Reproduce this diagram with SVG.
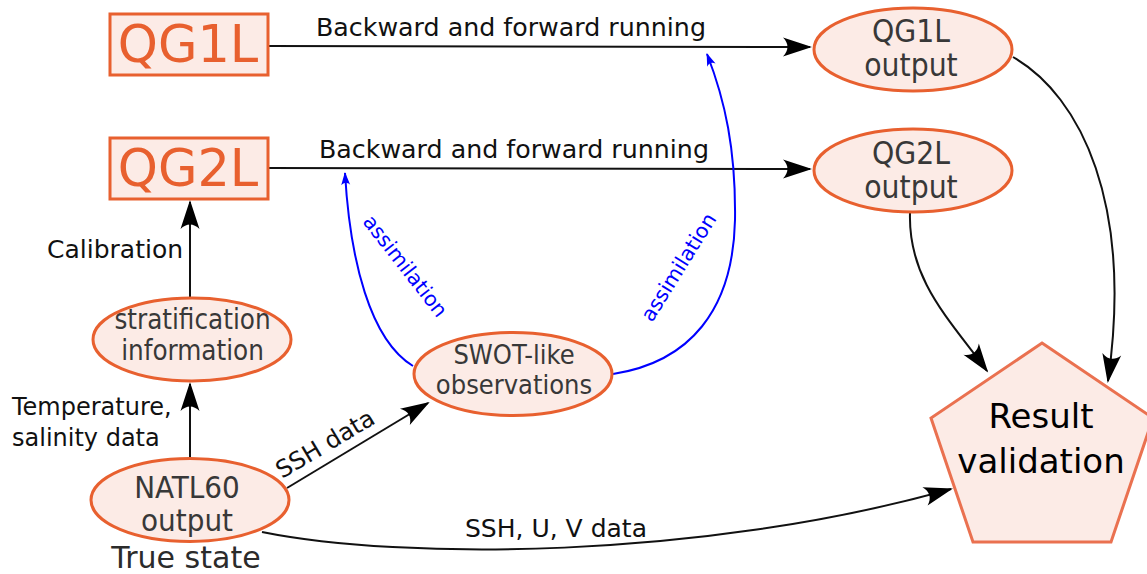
<svg xmlns="http://www.w3.org/2000/svg" width="1147" height="574" viewBox="0 0 1147 574">
<style>
.box{fill:#fcebe6;stroke:#e8602f;stroke-width:3}
.pent{fill:#fcebe6;stroke:#ea7150;stroke-width:3}
.big{font-family:"DejaVu Sans","Liberation Sans",sans-serif;fill:#e8602f;text-anchor:middle}
.nt{font-family:"DejaVu Sans Condensed","DejaVu Sans","Liberation Sans",sans-serif;font-stretch:condensed;fill:#383838;text-anchor:middle}
.lbl{font-family:"DejaVu Sans","Liberation Sans",sans-serif;fill:#111}
.blbl{font-family:"DejaVu Sans","Liberation Sans",sans-serif;fill:#0000ff;font-size:20.5px}
.ln{fill:none;stroke:#111;stroke-width:2;marker-end:url(#ah)}
.bl{fill:none;stroke:#0000ff;stroke-width:2;marker-end:url(#bh)}
</style>
<defs>
<marker id="ah" markerUnits="userSpaceOnUse" viewBox="-30 -12 34 24" markerWidth="34" markerHeight="24" refX="0" refY="0" orient="auto">
<path d="M2,0 L-27,-9.5 C-21,-3.5 -21,3.5 -27,9.5 Z" fill="#000"/>
</marker>
<marker id="bh" markerUnits="userSpaceOnUse" viewBox="-14 -6 16 12" markerWidth="16" markerHeight="12" refX="0" refY="0" orient="auto">
<path d="M1,0 L-12,-4.5 C-9,-1.5 -9,1.5 -12,4.5 Z" fill="#0000ff"/>
</marker>
</defs>

<g id="connectors">
<path class="ln" d="M269,46 L810,47"/>
<text class="lbl" x="316" y="35.5" font-size="25.3">Backward and forward running</text>
<path class="ln" d="M269,168 L810,169"/>
<text class="lbl" x="319" y="157.5" font-size="25.3">Backward and forward running</text>
<path class="ln" d="M1013,57 C1082,97 1133,205 1108,381"/>
<path class="ln" d="M910,213 C908,280 950,320 987,371"/>
<path class="ln" d="M190,297 L190,202"/>
<text class="lbl" x="47" y="258" font-size="25">Calibration</text>
<path class="ln" d="M190,458 L190,384"/>
<text class="lbl" x="12" y="415" font-size="24">Temperature,</text>
<text class="lbl" x="12" y="446" font-size="24">salinity data</text>
<path class="ln" d="M287,488 L428,403"/>
<text class="lbl" x="282" y="479" font-size="24" transform="rotate(-30.7 282 479)">SSH data</text>
<path class="ln" d="M262,532 C400,560 700,560 951,489"/>
<text class="lbl" x="465" y="537" font-size="25">SSH, U, V data</text>
<path class="bl" d="M413,366 C370,340 350,260 345,173"/>
<text class="blbl" x="362" y="222" transform="rotate(52 362 222)">assimilation</text>
<path class="bl" d="M613,374 C690,362 733,310 735,220 C736,150 725,100 707,54"/>
<text class="blbl" x="652" y="323" transform="rotate(-58 652 323)">assimilation</text>
</g>

<g id="QG1L">
<rect class="box" x="110" y="14" width="158" height="61"/>
<text class="big" x="188" y="62" font-size="51">QG1L</text>
</g>
<g id="QG2L">
<rect class="box" x="110" y="138" width="158" height="61"/>
<text class="big" x="188" y="185.5" font-size="51">QG2L</text>
</g>
<g id="QG1L-output">
<ellipse class="box" cx="913" cy="49.5" rx="99" ry="41.5"/>
<text class="nt" x="911" y="41.5" font-size="31.5">QG1L</text>
<text class="nt" x="911" y="75.5" font-size="31.5">output</text>
</g>
<g id="QG2L-output">
<ellipse class="box" cx="913" cy="170.5" rx="99" ry="41.5"/>
<text class="nt" x="911" y="163.5" font-size="31.5">QG2L</text>
<text class="nt" x="911" y="197.5" font-size="31.5">output</text>
</g>
<g id="stratification">
<ellipse class="box" cx="192" cy="339.5" rx="99" ry="41.5"/>
<text class="nt" x="192.5" y="329" font-size="27.5">stratification</text>
<text class="nt" x="192.5" y="360" font-size="27.5">information</text>
</g>
<g id="SWOT">
<ellipse class="box" cx="513" cy="374" rx="99" ry="41.5"/>
<text class="nt" x="514" y="363.5" font-size="27">SWOT-like</text>
<text class="nt" x="514" y="393.5" font-size="27">observations</text>
</g>
<g id="NATL60">
<ellipse class="box" cx="190" cy="500" rx="99" ry="41.5"/>
<text class="nt" x="187" y="497.5" font-size="31">NATL60</text>
<text class="nt" x="187" y="530.5" font-size="31">output</text>
</g>
<text id="true-state" x="186" y="568" font-size="30" text-anchor="middle" style="font-family:'DejaVu Sans','Liberation Sans',sans-serif;fill:#2b2b2b">True state</text>
<g id="result">
<polygon class="pent" points="1042,343 1153,418 1111,542 973,542 931,418"/>
<text class="lbl" x="1041" y="428" font-size="34" text-anchor="middle" style="fill:#000">Result</text>
<text class="lbl" x="1041" y="473" font-size="34" text-anchor="middle" style="fill:#000">validation</text>
</g>
</svg>
